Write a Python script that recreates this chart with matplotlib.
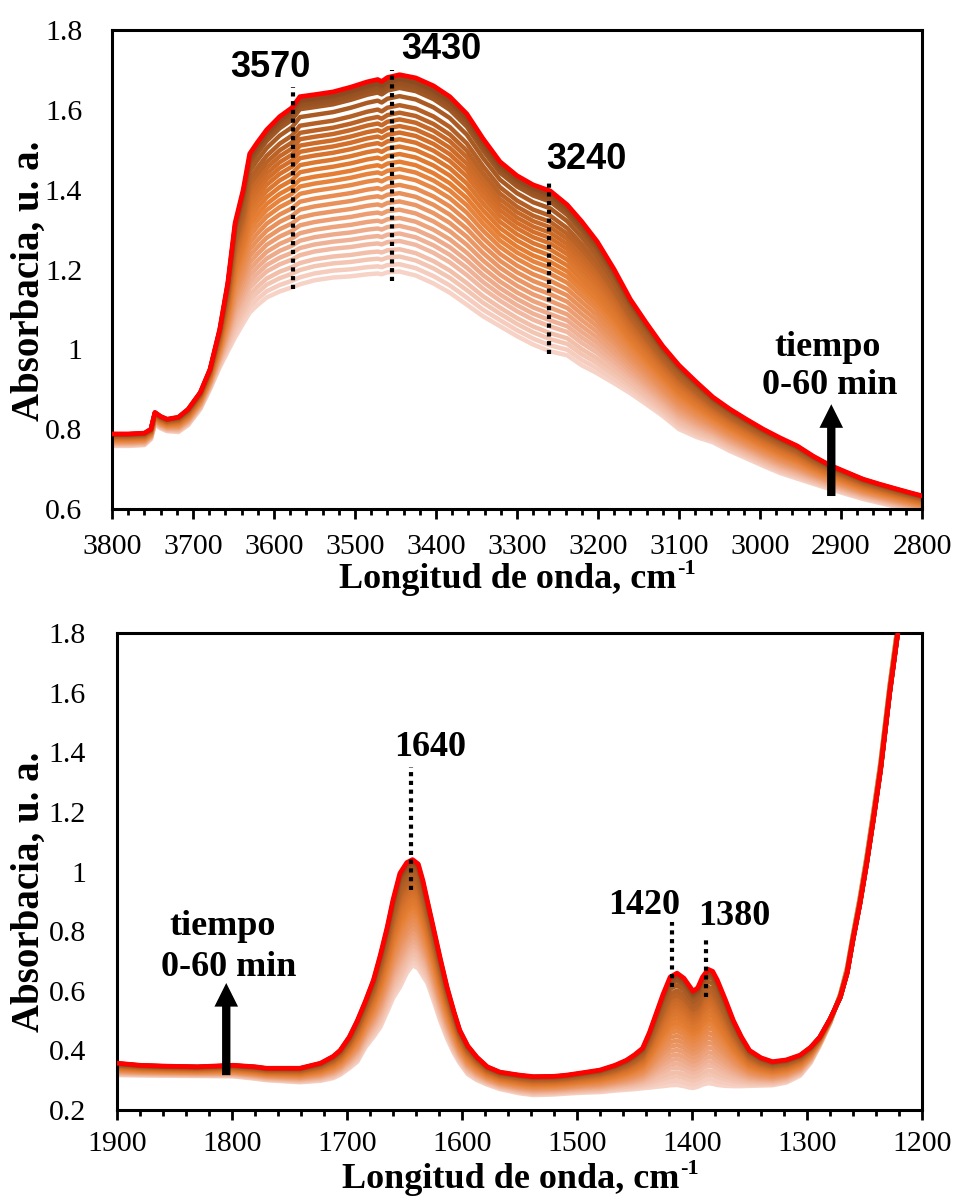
import numpy as np
import matplotlib
matplotlib.use("Agg")
import matplotlib.pyplot as plt
from matplotlib.colors import LinearSegmentedColormap
from matplotlib.ticker import MultipleLocator

plt.rcParams['font.family'] = ['Liberation Serif', 'DejaVu Serif']

# ---------------- data: O-H region (top panel) ----------------
wn_oh = [3800, 3780, 3760, 3752, 3747, 3740, 3732, 3718, 3706, 3691, 3679, 3667,
         3657, 3648, 3638, 3630, 3621, 3609, 3593, 3578, 3568, 3550, 3527, 3505,
         3485, 3472, 3467, 3460, 3445, 3425, 3403, 3383, 3362, 3342, 3321, 3300,
         3280, 3259, 3238, 3220, 3201, 3180, 3160, 3140, 3120, 3100, 3078, 3058,
         3037, 3017, 2996, 2975, 2954, 2934, 2914, 2893, 2873, 2852, 2831, 2815, 2800]
abs_oh_final = [0.788, 0.788, 0.790, 0.800, 0.842, 0.832, 0.825, 0.830, 0.850, 0.892, 0.950, 1.050,
                1.167, 1.317, 1.400, 1.490, 1.517, 1.550, 1.583, 1.605, 1.633, 1.638, 1.645, 1.657,
                1.670, 1.676, 1.671, 1.681, 1.688, 1.680, 1.660, 1.633, 1.590, 1.528, 1.470, 1.435,
                1.412, 1.397, 1.362, 1.320, 1.270, 1.200, 1.125, 1.065, 1.008, 0.960, 0.917, 0.880,
                0.850, 0.825, 0.800, 0.778, 0.758, 0.732, 0.710, 0.692, 0.675, 0.662, 0.650, 0.641, 0.633]
abs_oh_initial = [0.758, 0.758, 0.760, 0.775, 0.812, 0.802, 0.795, 0.793, 0.810, 0.850, 0.900, 0.955,
                  0.995, 1.030, 1.065, 1.092, 1.110, 1.130, 1.145, 1.155, 1.163, 1.173, 1.180, 1.183,
                  1.188, 1.190, 1.188, 1.193, 1.195, 1.185, 1.165, 1.142, 1.112, 1.083, 1.058, 1.033,
                  1.012, 0.995, 0.985, 0.960, 0.940, 0.915, 0.890, 0.862, 0.833, 0.800, 0.780, 0.767,
                  0.745, 0.727, 0.708, 0.690, 0.676, 0.663, 0.650, 0.637, 0.625, 0.615, 0.605, 0.598, 0.592]

# ---------------- data: 1900-1200 region (bottom panel) ----------------
wn_low = [1910, 1900, 1880, 1857, 1830, 1799, 1780, 1770, 1741, 1723, 1712, 1706, 1698, 1691,
          1684, 1677, 1671, 1665, 1660, 1654, 1648, 1643, 1638, 1634, 1630, 1625, 1619, 1613,
          1607, 1602, 1595, 1587, 1578, 1567, 1550, 1538, 1520, 1509, 1495, 1480, 1467, 1457,
          1450, 1443, 1437, 1431, 1425, 1419, 1413, 1407, 1403, 1399, 1395, 1391, 1386, 1382,
          1378, 1371, 1364, 1357, 1350, 1340, 1330, 1318, 1306, 1297, 1289, 1280, 1271, 1265,
          1260, 1254, 1248, 1242, 1236, 1228, 1221, 1214, 1200]
abs_low_final = [0.358, 0.357, 0.350, 0.347, 0.345, 0.350, 0.345, 0.340, 0.340, 0.357, 0.380, 0.400, 0.445, 0.500,
                 0.565, 0.636, 0.720, 0.814, 0.905, 0.994, 1.030, 1.040, 1.025, 0.970, 0.900, 0.814, 0.710, 0.612,
                 0.530, 0.468, 0.415, 0.377, 0.345, 0.327, 0.317, 0.312, 0.313, 0.317, 0.325, 0.334, 0.350, 0.367,
                 0.385, 0.407, 0.460, 0.525, 0.590, 0.646, 0.659, 0.642, 0.620, 0.598, 0.610, 0.645, 0.672, 0.665,
                 0.636, 0.570, 0.500, 0.445, 0.400, 0.375, 0.362, 0.368, 0.384, 0.410, 0.444, 0.505, 0.578, 0.660,
                 0.770, 0.890, 1.028, 1.180, 1.340, 1.600, 1.800, 2.000, 2.400]
abs_low_initial = [0.318, 0.317, 0.316, 0.315, 0.314, 0.313, 0.305, 0.300, 0.293, 0.298, 0.307, 0.318, 0.340, 0.362,
                   0.410, 0.445, 0.478, 0.530, 0.575, 0.612, 0.660, 0.686, 0.675, 0.650, 0.625, 0.570, 0.500, 0.440,
                   0.390, 0.357, 0.320, 0.300, 0.285, 0.270, 0.256, 0.250, 0.252, 0.255, 0.258, 0.260, 0.265, 0.268,
                   0.270, 0.273, 0.275, 0.278, 0.280, 0.283, 0.284, 0.280, 0.276, 0.274, 0.278, 0.285, 0.290, 0.288,
                   0.284, 0.281, 0.280, 0.280, 0.281, 0.282, 0.283, 0.292, 0.315, 0.357, 0.415, 0.490, 0.590, 0.680,
                   0.790, 0.915, 1.055, 1.210, 1.370, 1.630, 1.830, 2.030, 2.420]

# relative growth of each spectrum (0 -> 60 min), read at the 3430 band
growth = [0.000, 0.037, 0.076, 0.113, 0.155, 0.193, 0.232, 0.272, 0.314, 0.356,
          0.398, 0.440, 0.482, 0.521, 0.558, 0.597, 0.635, 0.672, 0.706, 0.739,
          0.773, 0.807, 0.845, 0.891, 0.933, 0.950, 0.961, 0.975, 0.983, 1.000]
curve_colors = ["#f6d3c6", "#f0b49a", "#ea9461", "#e57e33", "#d06d29", "#a85a24", "#8a4a20"]
final_color = "#ff0000"

xticks_oh = [3800, 3700, 3600, 3500, 3400, 3300, 3200, 3100, 3000, 2900, 2800]
yticks_oh = [0.6, 0.8, 1.0, 1.2, 1.4, 1.6, 1.8]
ylabels_oh = ["0.6", "0.8", "1", "1.2", "1.4", "1.6", "1.8"]
xticks_low = [1900, 1800, 1700, 1600, 1500, 1400, 1300, 1200]
yticks_low = [0.2, 0.4, 0.6, 0.8, 1.0, 1.2, 1.4, 1.6, 1.8]
ylabels_low = ["0.2", "0.4", "0.6", "0.8", "1", "1.2", "1.4", "1.6", "1.8"]

peaks_oh = [("3570", 3577, 1.150, 1.658, 3605, 1.705),
            ("3430", 3454, 1.170, 1.700, 3393, 1.750),
            ("3240", 3260, 0.988, 1.418, 3214, 1.475)]
peaks_low = [("1640", 1644, 0.938, 1.350, 1628, 1.417),
             ("1420", 1417, 0.612, 0.830, 1442, 0.887),
             ("1380", 1388, 0.578, 0.776, 1363, 0.850)]

# ---------------- figure ----------------
W, H = 959, 1196
fig = plt.figure(figsize=(W / 100, H / 100), dpi=100)
ax1 = fig.add_axes([112 / W, 1 - 509 / H, 810 / W, 479 / H])
ax2 = fig.add_axes([117 / W, 1 - 1110 / H, 805 / W, 477 / H])
cmap = LinearSegmentedColormap.from_list("tiempo", curve_colors)


def draw_curves(ax, wn, a0, a1):
    wn = np.asarray(wn)
    a0 = np.asarray(a0)
    a1 = np.asarray(a1)
    n = len(growth) - 1
    for i, f in enumerate(growth[:-1]):
        ax.plot(wn, a0 + f * (a1 - a0), color=cmap(i / (n - 1)), lw=3.2,
                solid_joinstyle='round', solid_capstyle='butt', zorder=2)
    ax.plot(wn, a1, color=final_color, lw=3.4, solid_joinstyle='round', zorder=3)


def style(ax, xlim, ylim, xt, yt, ylabs, ypad, xpad):
    ax.set_xlim(*xlim)
    ax.set_ylim(*ylim)
    ax.set_xticks(xt)
    ax.set_xticklabels([str(v) for v in xt])
    ax.set_yticks(yt)
    ax.set_yticklabels(ylabs)
    ax.xaxis.set_minor_locator(MultipleLocator(20))
    ax.tick_params(axis='x', which='major', direction='out', length=7, width=2,
                   labelsize=21.5, pad=xpad)
    ax.tick_params(axis='x', which='minor', direction='out', length=4, width=2)
    ax.tick_params(axis='y', which='both', length=0, labelsize=21.5, pad=ypad)
    for s in ax.spines.values():
        s.set_linewidth(2.2)
        s.set_color('black')


def dotted(ax, x, y0, y1):
    ax.plot([x, x], [y0, y1], color='black', lw=3.0, linestyle=(0, (1, 1.1)),
            dash_capstyle='butt', zorder=4)


def arrow(ax, x, y0, y1):
    ax.annotate('', xy=(x, y1), xytext=(x, y0),
                arrowprops=dict(arrowstyle='simple,head_length=0.85,head_width=0.85,tail_width=0.3',
                                color='black', lw=0, mutation_scale=20,
                                shrinkA=0, shrinkB=0), zorder=5)


draw_curves(ax1, wn_oh, abs_oh_initial, abs_oh_final)
style(ax1, (3800, 2800), (0.6, 1.8), xticks_oh, yticks_oh, ylabels_oh, 21.5, 11)
for lab, xd, y0, y1, xt, yt in peaks_oh:
    dotted(ax1, xd, y0, y1)
    ax1.text(xt, yt, lab, ha='center', va='center', fontsize=26,
             fontweight='bold', family=['Liberation Sans', 'DejaVu Sans'], zorder=6)
ax1.text(2916, 1.005, "tiempo", ha='center', va='center', fontsize=26, fontweight='bold')
ax1.text(2914, 0.910, "0-60 min", ha='center', va='center', fontsize=26, fontweight='bold')
arrow(ax1, 2912, 0.6325, 0.8625)

draw_curves(ax2, wn_low, abs_low_initial, abs_low_final)
style(ax2, (1900, 1200), (0.2, 1.8), xticks_low, yticks_low, ylabels_low, 22.5, 8)
for lab, xd, y0, y1, xt, yt in peaks_low:
    dotted(ax2, xd, y0, y1)
    ax2.text(xt, yt, lab, ha='center', va='center', fontsize=26, fontweight='bold', zorder=6)
ax2.text(1808, 0.815, "tiempo", ha='center', va='center', fontsize=26, fontweight='bold')
ax2.text(1803, 0.679, "0-60 min", ha='center', va='center', fontsize=26, fontweight='bold')
arrow(ax2, 1805, 0.317, 0.626)

# x-axis titles with a short-hyphen superscript "-1"
renderer = fig.canvas.get_renderer()


def sup_label(xc_px, base_px, fs):
    t = fig.text(0, 0, "Longitud de onda, cm", fontsize=fs, fontweight='bold',
                 ha='left', va='baseline')
    s = fig.text(0, 0, "-1", fontsize=fs * 0.62, fontweight='bold',
                 ha='left', va='baseline')
    w1 = t.get_window_extent(renderer).width
    w2 = s.get_window_extent(renderer).width
    x0 = xc_px - (w1 + w2) / 2
    t.set_position((x0 / W, 1 - base_px / H))
    s.set_position(((x0 + w1 + 1) / W, 1 - (base_px - fs * 0.40 * 1.389) / H))


sup_label(517, 588, 26)
sup_label(520, 1188, 26)

fig.text(29 / W, 1 - 281 / H, "Absorbacia, u. a.", ha='center', va='center', rotation=90,
         fontsize=28, fontweight='bold')
fig.text(29 / W, 1 - 892 / H, "Absorbacia, u. a.", ha='center', va='center', rotation=90,
         fontsize=28, fontweight='bold')

fig.savefig("out.png", dpi=100, facecolor='white')
